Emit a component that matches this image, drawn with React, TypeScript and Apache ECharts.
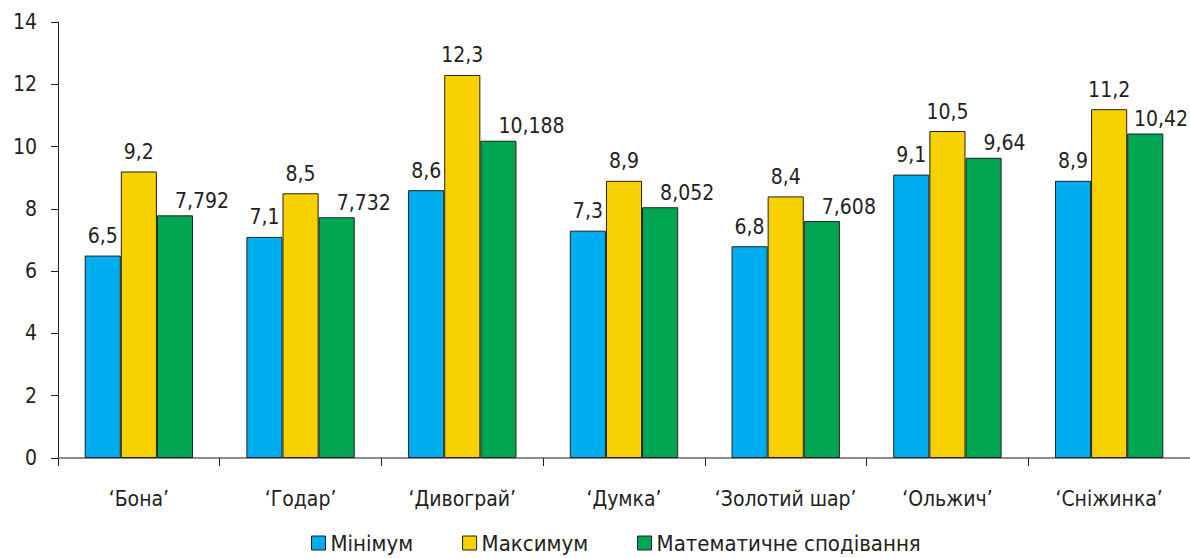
import React, { useEffect, useRef } from "react";
import * as echarts from "echarts";

const categories = ["‘Бона’", "‘Годар’", "‘Дивограй’", "‘Думка’", "‘Золотий шар’", "‘Ольжич’", "‘Сніжинка’"];
const minimum = [6.5, 7.1, 8.6, 7.3, 6.8, 9.1, 8.9];
const maximum = [9.2, 8.5, 12.3, 8.9, 8.4, 10.5, 11.2];
const expected = [7.792, 7.732, 10.188, 8.052, 7.608, 9.64, 10.42];
const seriesNames = ["Мінімум", "Максимум", "Математичне сподівання"];
const colors = ["#00AEEF", "#F7D100", "#00A651"];

const FONT = "'Liberation Sans Narrow', 'DejaVu Sans Condensed', 'Noto Sans', sans-serif";
const TEXT = "#231f20";
const CHART_W = 1190;

export default function App() {
  const ref = useRef<HTMLDivElement>(null);

  useEffect(() => {
    if (!ref.current) return;
    const chart = echarts.init(ref.current, null, { renderer: "svg" });
    const fmt = (p: any) => String(p.value).replace(".", ",");
    const makeSeries = (name: string, data: number[], color: string, label: any) => ({
      name,
      type: "bar",
      data,
      barGap: "0%",
      barCategoryGap: "33%",
      itemStyle: { color, borderColor: "#231f20", borderWidth: 1 },
      label: {
        show: true,
        position: "top",
        distance: 9,
        color: TEXT,
        fontFamily: FONT,
        fontSize: 21,
        formatter: fmt,
        ...label,
      },
      // keep labels inside the canvas on the right-hand side
      labelLayout: (params: any) => {
        const r = params.labelRect;
        if (r && r.x + r.width > CHART_W - 2) {
          return { x: CHART_W - 2 - r.width, y: r.y, align: "left", verticalAlign: "top" };
        }
        return {};
      },
    });
    chart.setOption({
      animation: false,
      color: colors,
      textStyle: { fontFamily: FONT },
      grid: { left: 58, right: -3, top: 22, bottom: 100, containLabel: false },
      legend: {
        data: seriesNames,
        left: 311,
        top: 531,
        padding: 0,
        itemWidth: 14,
        itemHeight: 14,
        itemGap: 49,
        icon: "rect",
        itemStyle: { borderColor: "#231f20", borderWidth: 1 },
        textStyle: { fontFamily: FONT, fontSize: 22, color: TEXT, lineHeight: 24 },
      },
      xAxis: {
        type: "category",
        data: categories,
        axisLine: { lineStyle: { color: "#8c8c8c", width: 2 } },
        axisTick: { show: true, length: 8, lineStyle: { color: "#231f20" }, alignWithLabel: false },
        axisLabel: { color: TEXT, fontFamily: FONT, fontSize: 21, margin: 30, interval: 0 },
      },
      yAxis: {
        type: "value",
        min: 0,
        max: 14,
        interval: 2,
        splitLine: { show: false },
        axisLine: { show: true, lineStyle: { color: "#231f20" } },
        axisTick: { show: true, length: 7, lineStyle: { color: "#231f20" } },
        axisLabel: { color: TEXT, fontFamily: FONT, fontSize: 21, margin: 21, padding: [8, 0, 0, 0] },
      },
      series: [
        makeSeries(seriesNames[0], minimum, colors[0], { offset: [-6, 0] }),
        makeSeries(seriesNames[1], maximum, colors[1], {}),
        makeSeries(seriesNames[2], expected, colors[2], { align: "left", offset: [-5, 0], distance: 4 }),
      ],
    });
    return () => chart.dispose();
  }, []);

  return (
    <div
      ref={ref}
      style={{ position: "fixed", left: 0, top: 0, width: 1190, height: 558, background: "#fff" }}
    />
  );
}
